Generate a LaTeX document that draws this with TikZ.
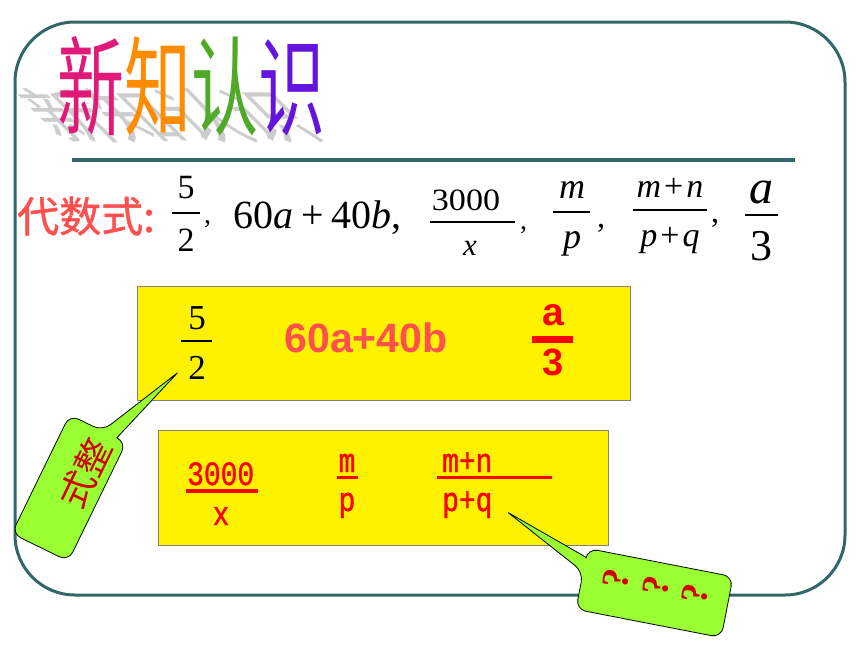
\documentclass[tikz,border=0pt]{standalone}
\usepackage{fontspec}
\setmainfont{Liberation Serif}
\newfontfamily\cjkfont{Noto Sans CJK SC}
\newfontfamily\cjkheavy[FakeBold=1.2]{Noto Sans CJK SC}
\newfontfamily\arialfont{Liberation Sans}
\newfontfamily\monofont[FakeStretch=0.82,FakeBold=1]{Liberation Mono}
\usepackage{tikz}
\usetikzlibrary{positioning}

\definecolor{frameteal}{RGB}{51,102,102}
\definecolor{softred}{RGB}{255,80,80}
\definecolor{tagred}{RGB}{210,0,0}
\definecolor{bubblegreen}{RGB}{153,255,51}
\definecolor{boxgray}{RGB}{128,128,128}
\definecolor{shadowgray}{RGB}{205,205,205}
\definecolor{xincol}{RGB}{225,25,120}
\definecolor{zhicol}{RGB}{255,140,0}
\definecolor{rencol}{RGB}{80,170,40}
\definecolor{shicol}{RGB}{100,20,220}

\newcommand{\setfs}[1]{\fontsize{#1}{#1}\selectfont}

\begin{document}
\begin{tikzpicture}[x=1pt, y=-1pt,
    ybox/.style={draw=boxgray, line width=1.2pt, fill=yellow, anchor=north west},
    bubble/.style={draw=black, line width=0.8pt, fill=bubblegreen},
    txt/.style={inner sep=0pt, anchor=base},
    txtw/.style={inner sep=0pt, anchor=base west}]
        \useasboundingbox (0,0) rectangle (860,645);
        \fill[white] (0,0) rectangle (860,645);

        % Frame
        \draw[frameteal, line width=3pt, rounded corners=60pt] (15,22) rectangle (845,595);
        \draw[frameteal, line width=3.5pt] (72,160) -- (795,160);

        % Title
        \node[txtw, text=shadowgray, xslant=-1.0, yscale=0.55, xscale=0.62] (shadow) at (57,138)
            {\setfs{108}\cjkfont 新知认识};
        \node[txtw, xscale=0.62] (title) at (57,127)
            {\setfs{108}\cjkfont\textcolor{xincol}{新}\textcolor{zhicol}{知}\textcolor{rencol}{认}\textcolor{shicol}{识}};

        % Algebraic expressions
        \node[txtw, text=softred] (label) at (17,232) {\setfs{42}\cjkheavy 代数式:};
        \node[txt] (n1) at (186,198) {\setfs{34}5};
        \node[txt] (d1) at (186,251) {\setfs{34}2};
        \draw[line width=1.3pt] (172,213) -- (200,213);
        \node[txtw] (c1) at (204,223) {\setfs{28},};
        \node[txtw] (lin) at (233,228)
            {\setfs{40}60\textit{a}\hspace{8pt}+\hspace{8pt}40\textit{b},};
        \node[txt, xscale=1.1] (n2) at (466,210) {\setfs{31}3000};
        \node[txt] (d2) at (470,255) {\setfs{31}\textit{x}};
        \draw[line width=1.3pt] (430,222) -- (515,222);
        \node[txtw] (c2) at (520,229) {\setfs{28},};
        \node[txt] (n3) at (572,198) {\setfs{36}\textit{m}};
        \node[txt] (d3) at (572,248) {\setfs{36}\textit{p}};
        \draw[line width=1.3pt] (553,212) -- (590,212);
        \node[txtw] (c3) at (597,227) {\setfs{32},};
        \node[txt] (n4) at (670,197) {\setfs{34}\textit{m}\hspace{3pt}+\hspace{3pt}\textit{n}};
        \node[txt] (d4) at (670,246) {\setfs{34}\textit{p}\hspace{3pt}+\hspace{3pt}\textit{q}};
        \draw[line width=1.3pt] (633,210) -- (707,210);
        \node[txtw] (c4) at (711,222) {\setfs{32},};
        \node[txt] (n5) at (761,203) {\setfs{48}\textit{a}};
        \node[txt] (d5) at (761,260) {\setfs{44}3};
        \draw[line width=1.5pt] (745,215) -- (778,215);

        % Box 1
        \node[ybox, minimum width=493pt, minimum height=114pt] (box1) at (137,286) {};
        \node[txt] (b1n) at (197,329) {\setfs{35}5};
        \node[txt] (b1d) at (197,379) {\setfs{35}2};
        \draw[line width=1.3pt] (181,341) -- (212,341);
        \node[txt, text=softred] (b1lin) at (366,352) {\setfs{41}\arialfont\bfseries 60a+40b};
        \node[txt, text=red] (b1a) at (553,325) {\setfs{39}\arialfont\bfseries a};
        \fill[red] (532,336) rectangle (573,343);
        \node[txt, text=red] (b1three) at (553,375) {\setfs{38}\arialfont\bfseries 3};

        % Box 2
        \node[ybox, minimum width=450pt, minimum height=115pt] (box2) at (158,430) {};
        \node[txtw, text=red] (b2n1) at (187,485) {\setfs{34}\monofont 3000};
        \draw[red, line width=3.5pt] (186,491) -- (258,491);
        \node[txt, text=red] (b2d1) at (221,525) {\setfs{34}\monofont x};
        \node[txt, text=red] (b2n2) at (347,472) {\setfs{34}\monofont m};
        \draw[red, line width=3pt] (337,477) -- (358,477);
        \node[txt, text=red] (b2d2) at (347,511) {\setfs{34}\monofont p};
        \node[txtw, text=red] (b2n3) at (442,472) {\setfs{34}\monofont m+n};
        \draw[red, line width=3pt] (437,477) -- (552,477);
        \node[txtw, text=red] (b2d3) at (442,511) {\setfs{34}\monofont p+q};

        % Callout: polynomial
        \begin{scope}[shift={(69,488)}, rotate=-26]
            \draw[bubble] (5,-66) -- (47,-151) -- (21,-66) [rounded corners=10pt]
                -- (31.5,-66) -- (31.5,66) -- (-31.5,66) -- (-31.5,-66) -- cycle;
            \node[rotate=64, text=tagred] (tag1) at (8,-20) {\setfs{36}\cjkfont 式整};
        \end{scope}

        % Callout: question
        \begin{scope}[shift={(654.5,593)}, rotate=-11]
            \draw[bubble] (-74,-7) -- (-159,-51) -- (-74,-22) [rounded corners=10pt]
                -- (-74,-31) -- (74,-31) -- (74,31) -- (-74,31) -- cycle;
            \node[rotate=79, text=tagred, align=center, inner sep=0pt,
                  font=\fontsize{38}{40}\selectfont\bfseries] (tag2) at (0,-7) {?\\?\\?};
        \end{scope}
    \end{tikzpicture}
\end{document}
